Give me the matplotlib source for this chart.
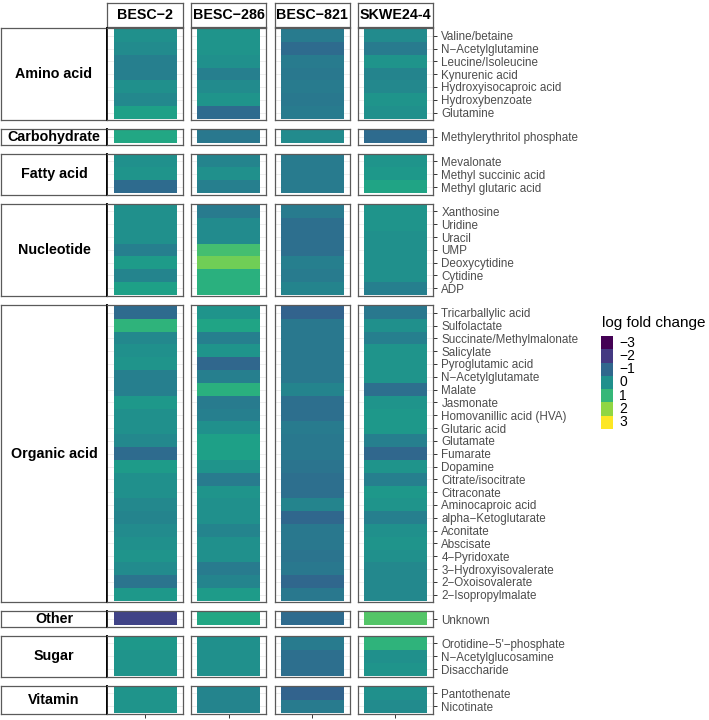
import numpy as np
import matplotlib
matplotlib.use("Agg")
import matplotlib.pyplot as plt
from matplotlib.patches import Rectangle

plt.rcParams["font.family"] = ["Liberation Sans", "DejaVu Sans"]

samples = ["BESC\u22122", "BESC\u2212286", "BESC\u2212821", "SKWE24-4"]

class_names = ["Amino acid", "Carbohydrate", "Fatty acid", "Nucleotide",
               "Organic acid", "Other", "Sugar", "Vitamin"]

class_members = [
    ["Valine/betaine", "N\u2212Acetylglutamine", "Leucine/Isoleucine", "Kynurenic acid",
     "Hydroxyisocaproic acid", "Hydroxybenzoate", "Glutamine"],
    ["Methylerythritol phosphate"],
    ["Mevalonate", "Methyl succinic acid", "Methyl glutaric acid"],
    ["Xanthosine", "Uridine", "Uracil", "UMP", "Deoxycytidine", "Cytidine", "ADP"],
    ["Tricarballylic acid", "Sulfolactate", "Succinate/Methylmalonate", "Salicylate",
     "Pyroglutamic acid", "N\u2212Acetylglutamate", "Malate", "Jasmonate",
     "Homovanillic acid (HVA)", "Glutaric acid", "Glutamate", "Fumarate", "Dopamine",
     "Citrate/isocitrate", "Citraconate", "Aminocaproic acid", "alpha\u2212Ketoglutarate",
     "Aconitate", "Abscisate", "4\u2212Pyridoxate", "3\u2212Hydroxyisovalerate",
     "2\u2212Oxoisovalerate", "2\u2212Isopropylmalate"],
    ["Unknown"],
    ["Orotidine\u22125'\u2212phosphate", "N\u2212Acetylglucosamine", "Disaccharide"],
    ["Pantothenate", "Nicotinate"],
]

# log fold change, same order as the metabolites above
besc2 = [0.0, -0.1, -0.4, -0.4, 0.0, -0.2, 0.4,
         0.6,
         0.0, 0.1, -0.9,
         0.0, 0.0, 0.0, -0.4, 0.3, -0.3, 0.4,
         -0.9, 0.9, -0.2, 0.0, 0.1, -0.4, -0.4, 0.2, 0.0, 0.0, -0.2, -0.9, 0.3,
         0.0, 0.0, -0.2, -0.3, -0.1, 0.0, 0.1, -0.1, -0.7, 0.2,
         -1.8,
         0.2, 0.1, 0.1,
         0.1, 0.1]
besc286 = [0.1, 0.1, 0.0, -0.4, -0.1, 0.1, -0.9,
           -0.6,
           -0.3, 0.0, -0.4,
           -0.5, -0.1, -0.1, 1.2, 1.7, 0.8, 0.8,
           0.1, 0.5, -0.4, 0.1, -1.0, -0.4, 0.8, -0.5, -0.4, 0.0, 0.4, 0.4, 0.1,
           -0.5, 0.1, 0.0, 0.0, -0.3, 0.0, 0.0, -0.5, -0.3, 0.3,
           0.6,
           0.0, 0.0, 0.0,
           -0.3, -0.3]
besc821 = [-0.5, -0.9, -0.5, -0.6, -0.5, -0.6, -0.5,
           -0.1,
           -0.5, -0.5, -0.5,
           -0.5, -0.8, -0.8, -0.8, -0.4, -0.5, -0.3,
           -1.1, -0.6, -0.6, -0.6, -0.6, -0.6, -0.3, -0.8, -0.8, -0.5, -0.6, -0.6, -0.7,
           -0.8, -0.8, -0.3, -1.0, -0.6, -0.6, -0.7, -0.6, -1.0, -0.6,
           -0.9,
           -0.5, -0.8, -0.8,
           -1.1, -0.5]
skwe24 = [-0.1, -0.5, 0.1, -0.3, -0.2, 0.1, 0.0,
          -0.9,
          0.1, 0.2, 0.5,
          0.1, 0.1, 0.0, 0.0, 0.0, 0.0, -0.4,
          -0.6, 0.0, -0.4, 0.1, 0.1, 0.1, -0.8, 0.1, 0.2, 0.2, -0.4, -1.0, 0.1,
          -0.4, 0.2, 0.1, -0.4, 0.0, 0.1, 0.0, -0.2, -0.2, -0.2,
          1.4,
          0.9, 0.0, 0.1,
          0.0, -0.1]

legend_values = [-3, -2, -1, 0, 1, 2, 3]
legend_labels = ["\u22123", "\u22122", "\u22121", "0", "1", "2", "3"]

W, H = 709, 720
fig = plt.figure(figsize=(W / 100, H / 100), dpi=100)


def box(x0, y0, x1, y1):
    return [x0 / W, 1 - y1 / H, (x1 - x0) / W, (y1 - y0) / H]


values = np.array([besc2, besc286, besc821, skwe24]).T
border = "#5a5a5a"

# layout in pixels
top, bottom, gap = 28.0, 714.0, 9.0
sizes = [len(m) for m in class_members]
unit = (bottom - top - gap * (len(sizes) - 1)) / sum(n + 0.2 for n in sizes)
col_x0 = [107.5, 191.0, 274.5, 358.0]
col_w = 75.0

# top strips
for j, s in enumerate(samples):
    sax = fig.add_axes(box(col_x0[j], 3, col_x0[j] + col_w, 27))
    sax.set_xticks([]); sax.set_yticks([])
    for sp in sax.spines.values():
        sp.set_color(border); sp.set_linewidth(0.9)
    sax.text(0.5, 0.5, s, ha="center", va="center", fontsize=10.3,
             fontweight="bold", transform=sax.transAxes)

y = top
start = 0
for i, (cname, members) in enumerate(zip(class_names, class_members)):
    n = len(members)
    h = unit * (n + 0.2)
    vals = values[start:start + n]
    start += n

    # row strip on the left
    rax = fig.add_axes(box(0.5, y, col_x0[0], y + h))
    rax.set_xticks([]); rax.set_yticks([])
    for sp in rax.spines.values():
        sp.set_color(border); sp.set_linewidth(0.9)
    rax.spines["right"].set_color("black")
    rax.spines["right"].set_linewidth(1.2)
    rax.text(0.5, 0.5, cname, ha="center", va="center", fontsize=10.3,
             fontweight="bold", transform=rax.transAxes)

    for j in range(len(samples)):
        ax = fig.add_axes(box(col_x0[j], y, col_x0[j] + col_w, y + h))
        ax.imshow(vals[:, j].reshape(-1, 1), cmap="viridis", vmin=-3, vmax=3,
                  aspect="auto", extent=(0.5, 1.5, n + 0.5, 0.5),
                  interpolation="nearest", zorder=2)
        ax.set_xlim(0.4, 1.6)
        ax.set_ylim(n + 0.6, 0.4)
        for k in range(1, n + 1):
            ax.axhline(k, color="#ebebeb", lw=0.6, zorder=1)
        for sp in ax.spines.values():
            sp.set_color(border); sp.set_linewidth(0.9)
        if j == 0:
            ax.spines["left"].set_color("black")
            ax.spines["left"].set_linewidth(1.2)
        ax.set_yticks(range(1, n + 1))
        if j == len(samples) - 1:
            ax.yaxis.tick_right()
            ax.set_yticklabels(members, fontsize=8.4, color="#4d4d4d")
            ax.tick_params(axis="y", length=3, width=0.7, color="#333333", pad=3)
        else:
            ax.tick_params(axis="y", left=False, labelleft=False)
        ax.set_xticks([1])
        if i == len(class_names) - 1:
            ax.set_xticklabels([""])
            ax.tick_params(axis="x", length=3, width=0.7, color="#333333")
        else:
            ax.tick_params(axis="x", bottom=False, labelbottom=False)
    y += h + gap

# legend
fig.text(602 / W, 1 - 323 / H, "log fold change", fontsize=11, va="center", ha="left")
lax = fig.add_axes(box(601, 336, 612.5, 429))
lax.imshow(np.array(legend_values).reshape(-1, 1), cmap="viridis", vmin=-3, vmax=3,
           aspect="auto", interpolation="nearest")
lax.set_axis_off()
key_h = (429 - 336) / len(legend_values)
for k, lab in enumerate(legend_labels):
    fig.text(619 / W, 1 - (336 + key_h * (k + 0.5)) / H, lab, fontsize=10,
             va="center", ha="left")

fig.savefig("out.png", dpi=100)
